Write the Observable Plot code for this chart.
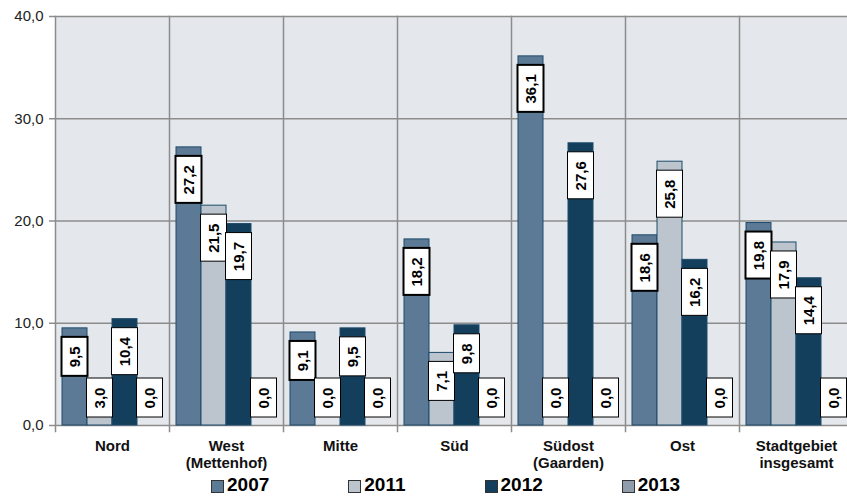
<!DOCTYPE html>
<html><head><meta charset="utf-8">
<script src="https://cdn.jsdelivr.net/npm/d3@7"></script>
<script src="https://cdn.jsdelivr.net/npm/@observablehq/plot@0.6"></script>
<style>
body{margin:0;background:#fff;font-family:"Liberation Sans",Arial,sans-serif;}
#wrap{width:847px;height:496px;overflow:hidden;position:relative;}
#chart svg{max-width:none;display:block;}
.legend{position:absolute;left:211px;top:476px;height:18px;display:flex;gap:79px;line-height:18px;font-size:19px;font-weight:bold;color:#000;font-family:"Liberation Sans",Arial,sans-serif;}
.legend .item{display:flex;align-items:center;gap:3px;}
.legend .sw{width:11px;height:11px;border:1px solid #333;margin-top:2px;}
</style></head><body>
<div id="wrap"><div id="chart"></div><div class="legend" id="legend"></div></div>
<script>
const categories = ["Nord","West\n(Mettenhof)","Mitte","Süd","Südost\n(Gaarden)","Ost","Stadtgebiet\ninsgesamt"];
const years = ["2007","2011","2012","2013"];
const v2007 = [9.5,27.2,9.1,18.2,36.1,18.6,19.8];
const v2011 = [3.0,21.5,0.0,7.1,0.0,25.8,17.9];
const v2012 = [10.4,19.7,9.5,9.8,27.6,16.2,14.4];
const v2013 = [0.0,0.0,0.0,0.0,0.0,0.0,0.0];
const yTicks = [0,10,20,30,40];
const colors = ["#5c7a96","#bcc4ce","#143f5c","#8e9cab"];

const series = [v2007,v2011,v2012,v2013];
const data = [];
categories.forEach((c,i)=>years.forEach((yr,j)=>data.push({cat:c,year:yr,value:series[j][i]})));

const height = 474, marginTop = 16, marginBottom = 49;
const k = 40/(height - marginTop - marginBottom); // data units per pixel
const fmt = v => v.toFixed(1).replace(".",",");
const labels = data.map(d=>{
  const txt = fmt(d.value);
  const h = txt.length >= 4 ? 47 : 39;
  const center = Math.max(d.value - (9 + h/2)*k, (8 + h/2)*k);
  return {...d, txt, center, y1: center - h/2*k, y2: center + h/2*k};
});

const plot = Plot.plot({
  width: 855, height, marginTop, marginBottom, marginLeft: 52, marginRight: 0,
  style:{fontFamily:"'Liberation Sans',Arial,sans-serif", background:"transparent"},
  fx:{domain:categories, paddingInner:0, paddingOuter:0, label:null, axis:null},
  x:{domain:years, paddingInner:0, paddingOuter:0.25, axis:null},
  y:{domain:[0,40], label:null, axis:null},
  color:{domain:years, range:colors},
  marks:[
    Plot.frame({fill:"#e4e8ec", stroke:null}),
    Plot.ruleY(yTicks, {stroke:"#8c8c8c", strokeWidth:1.5}),
    Plot.frame({anchor:"left", stroke:"#8c8c8c", strokeWidth:1.5, insetBottom:-6}),
    Plot.barY(data.filter(d=>d.value>0), {fx:"cat", x:"year", y:"value", fill:"year", stroke:"#1d4b6b", strokeWidth:1}),
    Plot.barY(labels, {fx:"cat", x:"year", y1:"y1", y2:"y2", fill:"white", stroke:"black",
      strokeWidth: d => d.year === "2007" ? 2 : 1, insetLeft:-0.5, insetRight:-0.5}),
    Plot.text(labels, {fx:"cat", x:"year", y:"center", text:"txt", rotate:-90, fontSize:15, fontWeight:"bold", fill:"black"}),
    Plot.axisY(yTicks, {anchor:"left", tickFormat:fmt, tickSize:6, tickPadding:6, stroke:"#8c8c8c", strokeWidth:1.5, fontSize:15, fill:"#222", label:null}),
    Plot.axisFx({anchor:"bottom", tickSize:0, tickPadding:14, fontSize:15, fontWeight:"bold", fill:"#111", lineHeight:1.1, label:null})
  ]
});
document.getElementById("chart").appendChild(plot);

const leg = document.getElementById("legend");
years.forEach((y,i)=>{
  const it = document.createElement("div"); it.className="item";
  const sw = document.createElement("span"); sw.className="sw"; sw.style.background=colors[i];
  const t = document.createElement("span"); t.textContent=y;
  it.appendChild(sw); it.appendChild(t); leg.appendChild(it);
});
</script>
</body></html>
